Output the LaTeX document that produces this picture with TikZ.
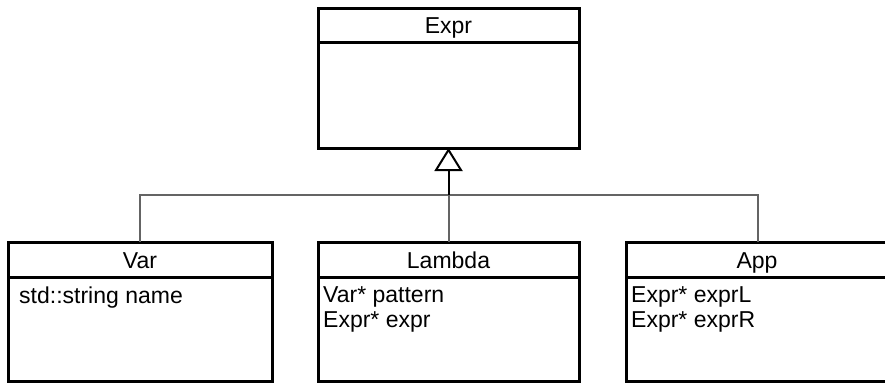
\documentclass[tikz,border=0pt]{standalone}
\usepackage{fontspec}
\setmainfont{Liberation Sans}
\usetikzlibrary{arrows.meta}
\begin{document}
\begin{tikzpicture}[x=1pt,y=-1pt,
  cls/.style={draw=black, line width=3pt, fill=white, inner sep=0pt, outer sep=0pt, minimum width=261pt},
  sep/.style={draw=black, line width=3pt},
  conn/.style={draw={rgb,255:red,100;green,100;blue,100}, line width=2pt},
  txt/.style={inner sep=0pt, font=\fontsize{23}{25}\selectfont},
  ttl/.style={txt, anchor=base},
  att/.style={txt, anchor=base west}]
\useasboundingbox (0,0) rectangle (885,383);
\clip (0,0) rectangle (885,383);
\fill[white] (0,0) rectangle (885,383);
% boxes
\node[cls, minimum height=140pt] (expr) at (448.5,78) {};
\node[cls, minimum width=264pt, minimum height=139pt] (var) at (140,311.5) {};
\node[cls, minimum height=139pt] (lambda) at (448.5,311.5) {};
\node[cls, minimum width=264pt, minimum height=139pt] (app) at (758,311.5) {};
% header separators
\draw[sep] (expr.north west) ++(0,34) -- ++(261,0);
\draw[sep] (var.north west) ++(0,35) -- ++(264,0);
\draw[sep] (lambda.north west) ++(0,35) -- ++(261,0);
\draw[sep] (app.north west) ++(0,35) -- ++(264,0);
% titles
\node[ttl] (exprt) at (448.5,33) {Expr};
\node[ttl] (vart) at (140,268) {Var};
\node[ttl] (lambdat) at (448.5,268) {Lambda};
\node[ttl] (appt) at (757,268) {App};
% attributes
\node[att] (va1) at (19,303) {std::string name};
\node[att] (la1) at (323,302) {Var* pattern};
\node[att] (la2) at (323,327) {Expr* expr};
\node[att] (aa1) at (631,302) {Expr* exprL};
\node[att] (aa2) at (631,327) {Expr* exprR};
% connectors
\coordinate (join) at (448.5,195);
\draw[conn] (var.north) |- (join) -| (app.north);
\draw[conn] (lambda.north) -- (join);
\draw[line width=2pt, black, -{Triangle[open, length=23pt, width=28pt, line width=2pt]}] (join) -- (expr.south);
\end{tikzpicture}
\end{document}
